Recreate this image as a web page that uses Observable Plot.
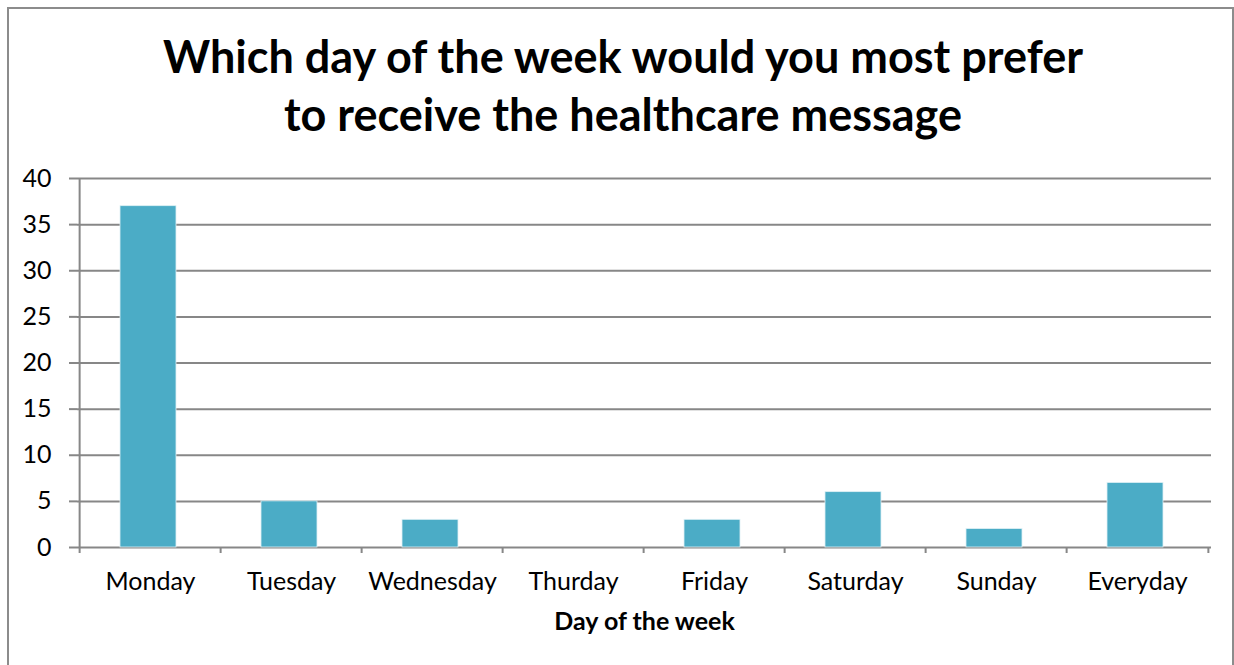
<!DOCTYPE html>
<html><head><meta charset="utf-8">
<script src="https://cdn.jsdelivr.net/npm/d3@7"></script>
<script src="https://cdn.jsdelivr.net/npm/@observablehq/plot@0.6"></script>
<style>
html,body{margin:0;padding:0;background:#fff;font-family:Lato,sans-serif;overflow:hidden;}
#frame{position:absolute;left:7px;top:7px;width:1227px;height:720px;border:2px solid #8c8c8c;box-sizing:border-box;}
#title{position:absolute;left:0;width:1246px;top:27px;text-align:center;font-weight:700;font-size:45px;line-height:58px;color:#000;}
#chart{position:absolute;left:0;top:150px;}
</style></head>
<body>
<div id="frame"></div>
<div id="title">Which day of the week would you most prefer<br>to receive the healthcare message</div>
<div id="chart"></div>
<script>
const days = ["Monday","Tuesday","Wednesday","Thurday","Friday","Saturday","Sunday","Everyday"];
const counts = [37, 5, 3, 0, 3, 6, 2, 7];
const yTicks = [0,5,10,15,20,25,30,35,40];
const xLabel = "Day of the week";

const data = days.map((d,i) => ({day: d, value: counts[i]}));

const W = 1234, H = 497, ML = 77, MR = 23, MT = 28, MB = 100;
const step = (W - ML - MR) / days.length;
const gray = "#878787";

const chart = Plot.plot({
  width: W, height: H,
  marginLeft: ML, marginRight: MR, marginTop: MT, marginBottom: MB,
  style: {fontFamily: "Lato, sans-serif", fontSize: "25px", color: "#000", background: "transparent", overflow: "visible"},
  x: {domain: days, paddingInner: 0.6, paddingOuter: 0.3, label: null},
  y: {domain: [0, 40], label: null},
  marks: [
    Plot.ruleY(yTicks, {stroke: gray, strokeWidth: 2}),
    Plot.ruleX([days[0]], {dx: -step/2, stroke: gray, strokeWidth: 2}),
    Plot.barY(data, {x: "day", y: "value", fill: "#4BACC6", stroke: "#dff1f5", strokeWidth: 0.8, dx: -2}),
    Plot.axisY({ticks: yTicks, tickSize: 8, tickPadding: 18, stroke: gray, strokeWidth: 2, fill: "#000", fontSize: 25, label: null}),
    Plot.axisX({tickSize: 6, tickFormat: () => "", dx: -step/2, stroke: gray, strokeWidth: 2, label: null}),
    Plot.axisX({ticks: [days[days.length-1]], tickSize: 6, tickFormat: () => "", dx: step/2, stroke: gray, strokeWidth: 2, label: null}),
    Plot.axisX({tickSize: 0, tickPadding: 25, fill: "#000", fontSize: 25, label: null}),
    Plot.text([xLabel], {frameAnchor: "bottom", dy: 82, fontWeight: "bold", fontSize: 25, fill: "#000"})
  ]
});
document.getElementById("chart").appendChild(chart);
</script>
</body></html>
